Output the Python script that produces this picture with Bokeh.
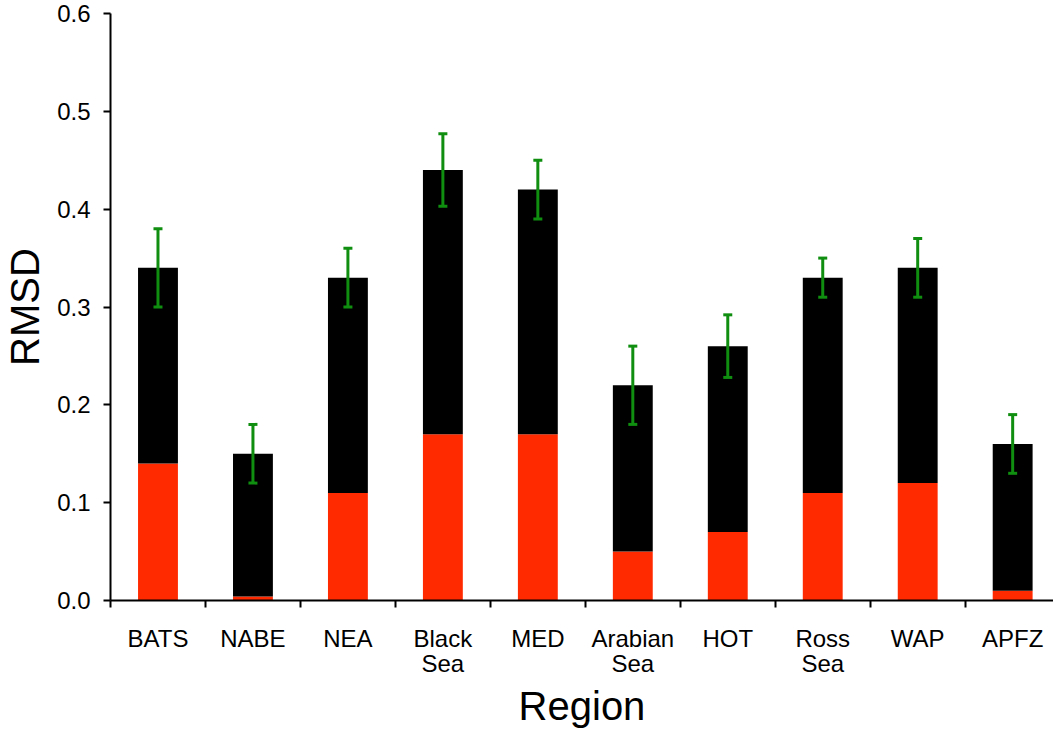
from bokeh.plotting import figure
from bokeh.models import ColumnDataSource, Range1d, FixedTicker, Whisker, TeeHead
from bokeh.embed import file_html
from bokeh.resources import INLINE

regions = ["BATS", "NABE", "NEA", "Black\nSea", "MED", "Arabian\nSea", "HOT", "Ross\nSea", "WAP", "APFZ"]
total_rmsd = [0.34, 0.15, 0.33, 0.44, 0.42, 0.22, 0.26, 0.33, 0.34, 0.16]
red_part = [0.14, 0.004, 0.11, 0.17, 0.17, 0.05, 0.07, 0.11, 0.12, 0.01]
err_low = [0.30, 0.12, 0.30, 0.403, 0.39, 0.18, 0.228, 0.31, 0.31, 0.13]
err_high = [0.38, 0.18, 0.36, 0.477, 0.45, 0.26, 0.292, 0.35, 0.37, 0.19]
y_ticks = [0.0, 0.1, 0.2, 0.3, 0.4, 0.5, 0.6]

xc = [i + 0.5 for i in range(len(regions))]
src = ColumnDataSource(dict(x=xc, total=total_rmsd, red=red_part, lo=err_low, hi=err_high))

p = figure(width=1053, height=731, output_backend="svg", toolbar_location=None,
           x_range=Range1d(0, 9.93), y_range=Range1d(0, 0.6),
           min_border_left=110, min_border_right=0, min_border_top=13, min_border_bottom=130)
p.outline_line_color = None
p.xgrid.grid_line_color = None
p.ygrid.grid_line_color = None
p.background_fill_color = "white"
p.border_fill_color = "white"

p.vbar(x="x", width=0.42, bottom=0, top="red", source=src, fill_color="#FF2A00", line_color=None)
p.vbar(x="x", width=0.42, bottom="red", top="total", source=src, fill_color="black", line_color=None)

green = "#0F8E0F"
w = Whisker(base="x", lower="lo", upper="hi", source=src, line_color=green, line_width=3,
            upper_head=TeeHead(size=9, line_color=green, line_width=3),
            lower_head=TeeHead(size=9, line_color=green, line_width=3))
w.level = "overlay"
p.add_layout(w)

font = "Liberation Sans"
# x axis
p.xaxis.ticker = FixedTicker(ticks=xc, minor_ticks=list(range(0, 10)))
p.xaxis.major_label_overrides = {x: r for x, r in zip(xc, regions)}
p.xaxis.major_tick_out = 0
p.xaxis.major_tick_in = 0
p.xaxis.minor_tick_out = 7
p.xaxis.minor_tick_in = 0
p.xaxis.minor_tick_line_width = 2
p.xaxis.axis_line_width = 2
p.xaxis.major_label_text_font = font
p.xaxis.major_label_text_font_size = "24px"
p.xaxis.major_label_text_color = "black"
p.xaxis.major_label_text_line_height = 0.95
p.xaxis.major_label_standoff = 17
p.xaxis.axis_label = "Region"
p.xaxis.axis_label_text_font = font
p.xaxis.axis_label_text_font_size = "40px"
p.xaxis.axis_label_text_color = "black"
p.xaxis.axis_label_text_font_style = "normal"
p.xaxis.axis_label_standoff = 4

# y axis
p.yaxis.ticker = FixedTicker(ticks=y_ticks, minor_ticks=[])
p.yaxis.major_label_overrides = {t: f"{t:.1f}" for t in y_ticks}
p.yaxis.major_tick_out = 7
p.yaxis.major_tick_in = 0
p.yaxis.major_tick_line_width = 2
p.yaxis.axis_line_width = 2
p.yaxis.major_label_text_font = font
p.yaxis.major_label_text_font_size = "24px"
p.yaxis.major_label_text_color = "black"
p.yaxis.major_label_standoff = 13
p.yaxis.axis_label = "RMSD"
p.yaxis.axis_label_text_font = font
p.yaxis.axis_label_text_font_size = "40px"
p.yaxis.axis_label_text_color = "black"
p.yaxis.axis_label_text_font_style = "normal"
p.yaxis.axis_label_standoff = 7

open("out.html", "w").write(file_html(p, INLINE))
